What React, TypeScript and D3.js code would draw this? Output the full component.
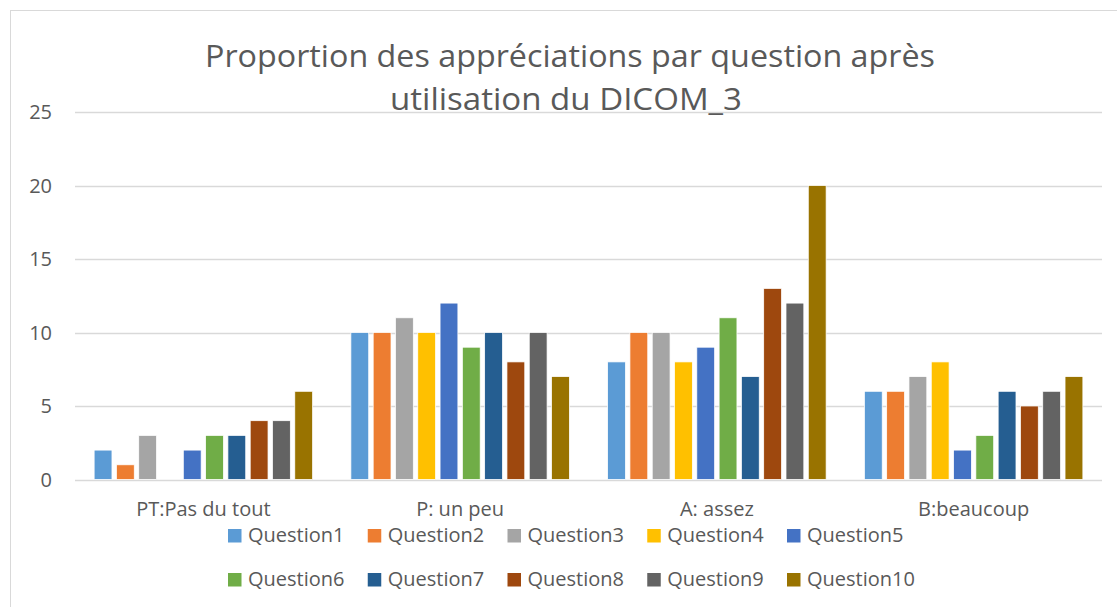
import React from "react";
import * as d3 from "d3";

const categories = ["PT:Pas du tout", "P: un peu", "A: assez", "B:beaucoup"];
const seriesNames = ["Question1", "Question2", "Question3", "Question4", "Question5", "Question6", "Question7", "Question8", "Question9", "Question10"];
const seriesColors = ["#5B9BD5", "#ED7D31", "#A5A5A5", "#FFC000", "#4472C4", "#70AD47", "#255E91", "#9E480E", "#636363", "#997300"];
// values[series][category]
const q1 = [2, 10, 8, 6];
const q2 = [1, 10, 10, 6];
const q3 = [3, 11, 10, 7];
const q4 = [0, 10, 8, 8];
const q5 = [2, 12, 9, 2];
const q6 = [3, 9, 11, 3];
const q7 = [3, 10, 7, 6];
const q8 = [4, 8, 13, 5];
const q9 = [4, 10, 12, 6];
const q10 = [6, 7, 20, 7];
const seriesValues = [q1, q2, q3, q4, q5, q6, q7, q8, q9, q10];
const yTicks = [0, 5, 10, 15, 20, 25];
const titleLines = ["Proportion des appréciations par question après", "utilisation du DICOM_3"];

const W = 1117;
const H = 607;
const FONT = "'Open Sans', sans-serif";
const TEXT = "#595959";

export default function App() {
  const plotL = 75, plotR = 1102, plotTop = 112, plotBottom = 479.5;
  const x0 = d3.scaleBand<string>().domain(categories).range([plotL, plotR]).padding(0);
  const gap = 16.9;
  const x1 = d3
    .scaleBand<string>()
    .domain(seriesNames)
    .range([gap, x0.bandwidth() - gap])
    .paddingInner(0.2)
    .paddingOuter(0.1);
  const y = d3.scaleLinear().domain([0, 25]).range([plotBottom, plotTop]);

  const legendX = d3.scalePoint<number>().domain([0, 1, 2, 3, 4]).range([228, 787]);
  const legendRowY = [529, 573];

  return (
    <svg width={W} height={H} style={{ position: "absolute", left: 0, top: 0 }} fontFamily={FONT}>
      <rect x={0} y={0} width={W} height={H} fill="#fff" />
      <rect x={10.5} y={10.5} width={W + 20} height={H + 20} fill="none" stroke="#D9D9D9" strokeWidth={1} />
      {/* gridlines */}
      {yTicks.map((t) => (
        <g key={t}>
          <line x1={plotL} x2={plotR} y1={Math.round(y(t)) + 0.5} y2={Math.round(y(t)) + 0.5} stroke="#D9D9D9" strokeWidth={1.5} />
          <text x={52} y={y(t) + 7} textAnchor="end" fontSize={20} fill={TEXT}>
            {t}
          </text>
        </g>
      ))}
      {/* title */}
      <text x={570} y={67} textAnchor="middle" fontSize={31} fill={TEXT} textLength={730} lengthAdjust="spacingAndGlyphs">
        {titleLines[0]}
      </text>
      <text x={566} y={110} textAnchor="middle" fontSize={31} fill={TEXT} textLength={352} lengthAdjust="spacingAndGlyphs">
        {titleLines[1]}
      </text>
      {/* bars */}
      {categories.map((c, ci) => (
        <g key={c} transform={`translate(${x0(c)},0)`}>
          {seriesNames.map((s, si) => {
            const v = seriesValues[si][ci];
            if (!v) return null;
            return (
              <rect
                key={s}
                x={x1(s)}
                y={y(v)}
                width={x1.bandwidth()}
                height={y(0) - y(v)}
                fill={seriesColors[si]}
                stroke="#fff"
                strokeWidth={0.75}
              />
            );
          })}
          <text x={x0.bandwidth() / 2} y={516} textAnchor="middle" fontSize={20} fill={TEXT}>
            {c}
          </text>
        </g>
      ))}
      {/* legend */}
      {seriesNames.map((s, i) => {
        const row = Math.floor(i / 5);
        const col = i % 5;
        const lx = legendX(col) as number;
        const ly = legendRowY[row];
        return (
          <g key={s}>
            <rect x={lx} y={ly} width={13.5} height={13.5} fill={seriesColors[i]} />
            <text x={lx + 20} y={ly + 12.5} fontSize={20} fill={TEXT}>
              {s}
            </text>
          </g>
        );
      })}
    </svg>
  );
}
